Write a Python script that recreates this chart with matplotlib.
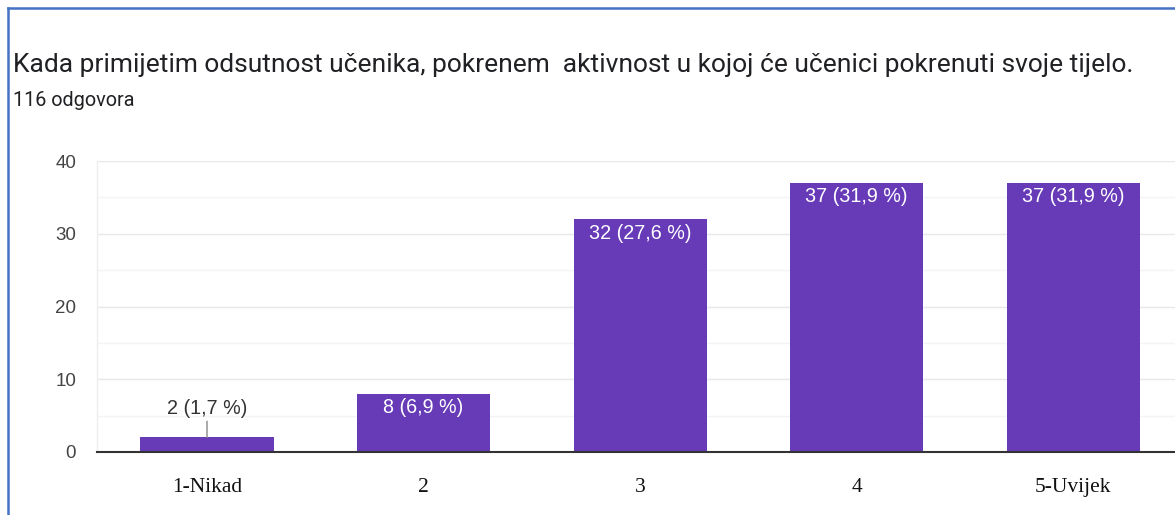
import matplotlib
matplotlib.use("Agg")
import matplotlib.pyplot as plt
from matplotlib.lines import Line2D

title = "Kada primijetim odsutnost učenika, pokrenem  aktivnost u kojoj će učenici pokrenuti svoje tijelo."
subtitle = "116 odgovora"
categories = ["1-Nikad", "2", "3", "4", "5-Uvijek"]
counts = [2, 8, 32, 37, 37]
percents = ["1,7", "6,9", "27,6", "31,9", "31,9"]
yticks = [0, 10, 20, 30, 40]

W, H = 1175, 515
fig = plt.figure(figsize=(W / 100, H / 100), dpi=100)
fig.patch.set_facecolor("white")

ax = fig.add_axes([97 / W, (H - 452) / H, 1 - 97 / W, (452 - 161) / H])
x = list(range(len(categories)))
ax.bar(x, counts, width=0.615, color="#673ab7", zorder=3)
ax.set_xlim(-0.508, 4.47)
ax.set_ylim(0, 40)

ax.set_yticks(yticks)
ax.set_yticks([5, 15, 25, 35], minor=True)
ax.grid(axis="y", which="major", color="#e8e8e8", linewidth=1.0, zorder=0)
ax.grid(axis="y", which="minor", color="#f4f4f4", linewidth=1.0, zorder=0)
ax.tick_params(axis="y", which="both", length=0, pad=15, labelsize=13.5, labelcolor="#444444")
for lab in ax.get_yticklabels():
    lab.set_fontfamily("Liberation Sans")
ax.set_xticks(x)
ax.set_xticklabels(categories, fontfamily="Liberation Serif", fontsize=15.5, color="#111111")
ax.tick_params(axis="x", length=0, pad=19)

for s in ["top", "right"]:
    ax.spines[s].set_visible(False)
ax.spines["left"].set_color("#eeeeee")
ax.spines["left"].set_linewidth(1.0)
ax.spines["bottom"].set_color("#333333")
ax.spines["bottom"].set_linewidth(1.5)
ax.spines["bottom"].set_zorder(4)

for xi, c, p in zip(x, counts, percents):
    txt = f"{c} ({p} %)"
    if c >= 5:
        ax.annotate(txt, (xi, c), xytext=(0, -10), textcoords="offset points",
                    ha="center", va="center", color="white", fontsize=14.2,
                    fontfamily="Liberation Sans", zorder=5)
    else:
        ax.annotate(txt, (xi, c), xytext=(0, 20.5), textcoords="offset points",
                    ha="center", va="center", color="#333333", fontsize=14.2,
                    fontfamily="Liberation Sans", zorder=5,
                    arrowprops=dict(arrowstyle="-", color="#888888", lw=1.0,
                                    shrinkA=0, shrinkB=0))

fig.text(13 / W, 1 - 65 / H, title, fontfamily="Roboto", fontsize=19,
         color="#202124", ha="left", va="center")
fig.text(13 / W, 1 - 100 / H, subtitle, fontfamily="Roboto", fontsize=14.3,
         color="#202124", ha="left", va="center")

# blue border (left & top)
fig.add_artist(Line2D([8 / W, 8 / W], [0, 1 - 8 / H], transform=fig.transFigure,
                      color="#4472c4", linewidth=1.8))
fig.add_artist(Line2D([8 / W, 1], [1 - 8 / H, 1 - 8 / H], transform=fig.transFigure,
                      color="#4472c4", linewidth=1.8))

fig.savefig("out.png", dpi=100)
